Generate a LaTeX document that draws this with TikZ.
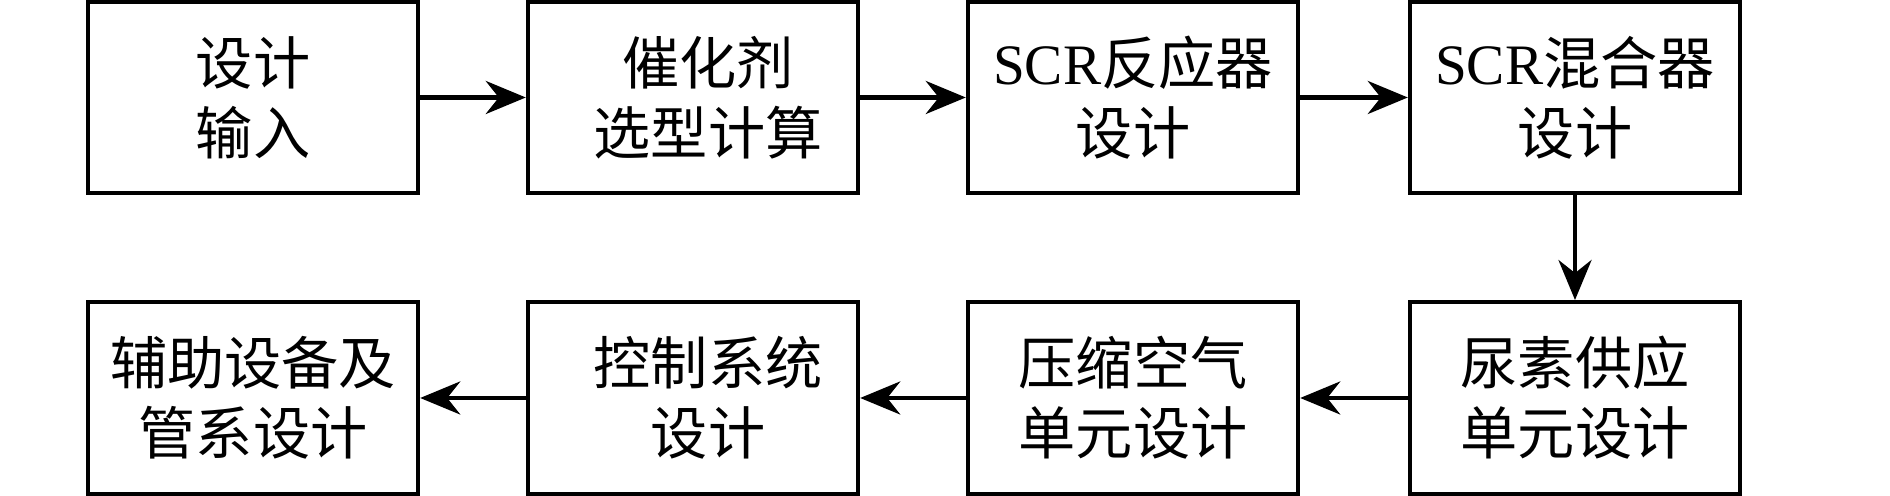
\documentclass[tikz,border=0pt]{standalone}
\usepackage{fontspec}
\setmainfont{Liberation Serif}
\newfontfamily\cjk{Noto Sans CJK SC}
\usetikzlibrary{arrows.meta}
\begin{document}
\begin{tikzpicture}[x=0.5pt,y=0.5pt,
  blk/.style={draw, line width=2.2pt, minimum width=165pt, minimum height=95.75pt,
    inner sep=0pt, align=center, font=\fontsize{28.6}{35}\selectfont\cjk},
  flow/.style={line width=2.3pt, -{Stealth[length=20pt,width=16.5pt,inset=6.5pt]}}]
\useasboundingbox (0,0) rectangle (1890,496);
% top row
\node[blk] (b1) at (253,398.5) {设计\\输入};
\node[blk] (b2) at (693,398.5) {\hspace*{15pt}催化剂\\\hspace*{15pt}选型计算};
\node[blk] (b3) at (1133,398.5) {{\rmfamily SCR}反应器\\设计};
\node[blk] (b4) at (1575,398.5) {{\rmfamily SCR}混合器\\设计};
% bottom row
\node[blk] (b8) at (1575,98) {尿素供应\\单元设计};
\node[blk] (b7) at (1133,98) {压缩空气\\单元设计};
\node[blk] (b6) at (693,98) {\hspace*{15pt}控制系统\\\hspace*{15pt}设计};
\node[blk] (b5) at (253,98) {辅助设备及\\管系设计};
% connectors
\draw[flow] (b1) -- (b2);
\draw[flow] (b2) -- (b3);
\draw[flow] (b3) -- (b4);
\draw[flow] (b4) -- (b8);
\draw[flow] (b8) -- (b7);
\draw[flow] (b7) -- (b6);
\draw[flow] (b6) -- (b5);
\end{tikzpicture}
\end{document}
